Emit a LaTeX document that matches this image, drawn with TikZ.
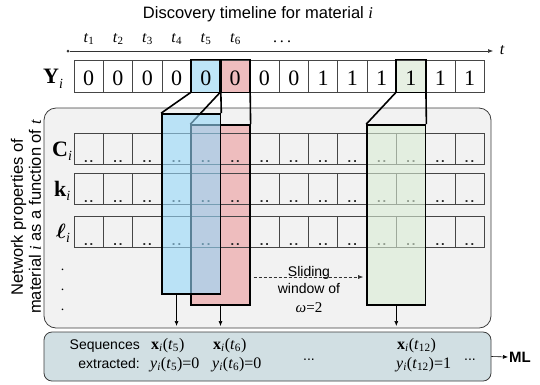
\documentclass[tikz,border=0pt]{standalone}
\usepackage{fontspec}
\usepackage{bm}
\setmainfont{Liberation Serif}
\newfontfamily\sansf{Liberation Sans}
\usetikzlibrary{arrows.meta,calc}
\definecolor{cellline}{RGB}{70,70,70}
\definecolor{graybg}{RGB}{242,242,242}
\definecolor{boxline}{RGB}{60,60,60}
\definecolor{botbg}{RGB}{209,223,227}
\definecolor{bluec}{RGB}{190,229,247}
\definecolor{bluet}{RGB}{150,216,250}
\definecolor{redc}{RGB}{238,189,190}
\definecolor{greenc}{RGB}{231,240,227}
\definecolor{greent}{RGB}{218,236,212}
\begin{document}
\begin{tikzpicture}[x=1pt,y=-1pt,
  cellY/.style={draw=cellline, line width=0.7pt, minimum width=29.3pt, minimum height=32pt,
    inner sep=0pt, text height=19.5pt, text depth=0pt, font=\fontsize{22}{22}\selectfont},
  plain/.style={},
  hlb/.style={fill=bluec},
  hlr/.style={fill=redc},
  hlg/.style={fill=greenc},
  hlline/.style={draw=black, line width=1.6pt},
  cellN/.style={draw=cellline, line width=0.7pt, minimum width=29.3pt, minimum height=31pt,
    inner sep=0pt, text height=27.4pt, text depth=0pt, font=\sansf\bfseries\fontsize{13}{13}\selectfont, text=black!85},
  win/.style={draw=black, line width=1.6pt, minimum width=58.6pt, minimum height=180pt, inner sep=0pt},
  prism/.style={draw=black, line width=1.6pt},
  arr/.style={draw=black, line width=0.6pt, -{Latex[length=5pt,width=4pt]}},
  tlab/.style={anchor=base, inner sep=0pt, font=\fontsize{16}{16}\selectfont},
  rowlab/.style={anchor=base west, inner sep=0pt, font=\fontsize{22}{22}\selectfont},
  seq/.style={anchor=base west, inner sep=0pt, font=\fontsize{16}{16}\selectfont},
  sans14/.style={inner sep=0pt, font=\sansf\fontsize{14}{14}\selectfont}
]
\useasboundingbox (0,0) rectangle (540,384);

% title
\node[inner sep=0pt, font=\sansf\fontsize{16.5}{16.5}\selectfont] (title) at (258,14)
  {Discovery timeline for material {\rmfamily\itshape i}};

% timeline
\node[circle, fill=black!80, inner sep=0pt, minimum size=3pt] (t0) at (68,51) {};
\coordinate (tend) at (493,51);
\draw[arr, draw=black!80] (t0) -- (tend);
\node[inner sep=0pt, font=\fontsize{16}{16}\selectfont\itshape] (tt) at (502,50) {t};
\foreach \i in {1,...,6}{
  \node[tlab] (tl\i) at ({74+(\i-0.5)*29.3},42) {\textit{t}\raisebox{-0.35ex}{\fontsize{11}{11}\selectfont\i}};
}
\node[tlab] (tdots) at (282,42) {.\kern3pt.\kern3pt.};

% boxes
\node[draw=boxline, line width=0.8pt, rounded corners=12pt, fill=graybg,
  minimum width=447pt, minimum height=220pt] (gbox) at (267.5,218) {};
\node[draw=boxline, line width=0.8pt, rounded corners=8pt, fill=botbg,
  minimum width=447pt, minimum height=49pt] (bbox) at (267.5,356.5) {};

% side text
\node[rotate=90, align=center, inner sep=0pt, font=\sansf\fontsize{16.5}{18}\selectfont] (side) at (26,217)
  {Network properties of\\material {\rmfamily\itshape i} as a function of {\rmfamily\itshape t}};

% red window fill (behind cells)
\node[win, draw=none, fill=redc] (wrfill) at (220.5,215) {};

% network cells
\foreach \i in {1,...,14}{
  \node[cellN] (c\i) at ({74+(\i-0.5)*29.3},148.5) {.\kern2pt.};
  \node[cellN] (k\i) at ({74+(\i-0.5)*29.3},188.5) {.\kern2pt.};
  \node[cellN] (l\i) at ({74+(\i-0.5)*29.3},231.5) {.\kern2pt.};
}
\node[rowlab] (Cl) at (52,156) {\textbf{C}\raisebox{-0.4ex}{\fontsize{14}{14}\selectfont\itshape i}};
\node[rowlab] (kl) at (54,196) {\textbf{k}\raisebox{-0.4ex}{\fontsize{14}{14}\selectfont\itshape i}};
\node[rowlab] (ll) at (56,238) {$\bm{\ell}$\raisebox{-0.4ex}{\fontsize{14}{14}\selectfont\itshape i}};
\node[inner sep=0pt, font=\fontsize{14}{14}\selectfont] (vd1) at (62.7,270) {.};
\node[inner sep=0pt, font=\fontsize{14}{14}\selectfont] (vd2) at (62.7,290) {.};
\node[inner sep=0pt, font=\fontsize{14}{14}\selectfont] (vd3) at (62.7,310) {.};

% Y row
\node[rowlab] (Yl) at (43,83) {\textbf{Y}\raisebox{-0.55ex}{\fontsize{14}{14}\selectfont\itshape i}};
\foreach \i/\s in {1/plain,2/plain,3/plain,4/plain,5/hlb,6/hlr,7/plain,8/plain,9/plain,10/plain,11/plain,12/hlg,13/plain,14/plain}{
  \node[cellY, \s] (y\i) at ({74+(\i-0.5)*29.3},76) {\ifnum\i>8 1\else 0\fi};
}

% red window
\node[win] (wr) at (220.5,215) {};
\draw[prism] (y6.south west) -- (wr.north west);
\draw[prism] (y6.south east) -- (wr.north east);

% blue window (translucent, above red)
\node[win, fill=bluet, fill opacity=0.6] (wb) at (191.2,204) {};
\draw[prism] (y5.south west) -- (wb.north west);
\draw[prism] (y5.south east) -- (wb.north east);

% green window
\node[win, fill=greent, fill opacity=0.6] (wg) at (396.3,215) {};
\draw[prism] (y12.south west) -- (wg.north west);
\draw[prism] (y12.south east) -- (wg.north east);

% highlighted Y cell outlines
\draw[hlline] (y5.north west) rectangle (y5.south east);
\draw[hlline] (y6.north west) rectangle (y6.south east);
\draw[hlline] (y12.north west) rectangle (y12.south east);

% sliding window
\coordinate (sly) at (300,277);
\draw[draw=black!80, line width=0.6pt, dashed, dash pattern=on 3pt off 2pt, -{Latex[length=5pt,width=4pt]},
  shorten <=3pt, shorten >=3pt] (wr.east |- sly) -- (wg.west |- sly);
\node[sans14, anchor=base] (sl1) at (309,276) {Sliding};
\node[sans14, anchor=base] (sl2) at (309,293) {window of};
\node[inner sep=0pt, anchor=base, font=\fontsize{15}{15}\selectfont] (sl3) at (309,312) {\textit{ω}=2};

% arrows to extracted sequences
\coordinate (ab) at (176.55,326);
\coordinate (ar) at (220.5,326);
\coordinate (ag) at (396.3,326);
\draw[arr] (wb.south -| ab) -- (ab);
\draw[arr] (wr.south) -- (ar);
\draw[arr] (wg.south) -- (ag);

% bottom box text
\node[sans14, anchor=base east] (sq1) at (140,349) {Sequences};
\node[sans14, anchor=base east] (sq2) at (140,368) {extracted:};
\node[seq] (x5) at (151,349) {\textbf{x}\textsubscript{\textit{i}}(\textit{t}\textsubscript{5})};
\node[seq] (y5v) at (150,368) {\textit{y}\textsubscript{\textit{i}}(\textit{t}\textsubscript{5})=0};
\node[seq] (x6) at (213,349) {\textbf{x}\textsubscript{\textit{i}}(\textit{t}\textsubscript{6})};
\node[seq] (y6v) at (212,368) {\textit{y}\textsubscript{\textit{i}}(\textit{t}\textsubscript{6})=0};
\node[sans14, anchor=base] (bd1) at (309,360) {...};
\node[seq] (x12) at (397,349) {\textbf{x}\textsubscript{\textit{i}}(\textit{t}\textsubscript{12})};
\node[seq] (y12v) at (396,368) {\textit{y}\textsubscript{\textit{i}}(\textit{t}\textsubscript{12})=1};
\node[sans14, anchor=base] (bd2) at (470,360) {...};

% ML
\node[inner sep=1pt, anchor=west, font=\sansf\bfseries\fontsize{15}{15}\selectfont] (ml) at (508,357) {ML};
\draw[arr] (bbox.east) -- (ml.west);
\end{tikzpicture}
\end{document}
